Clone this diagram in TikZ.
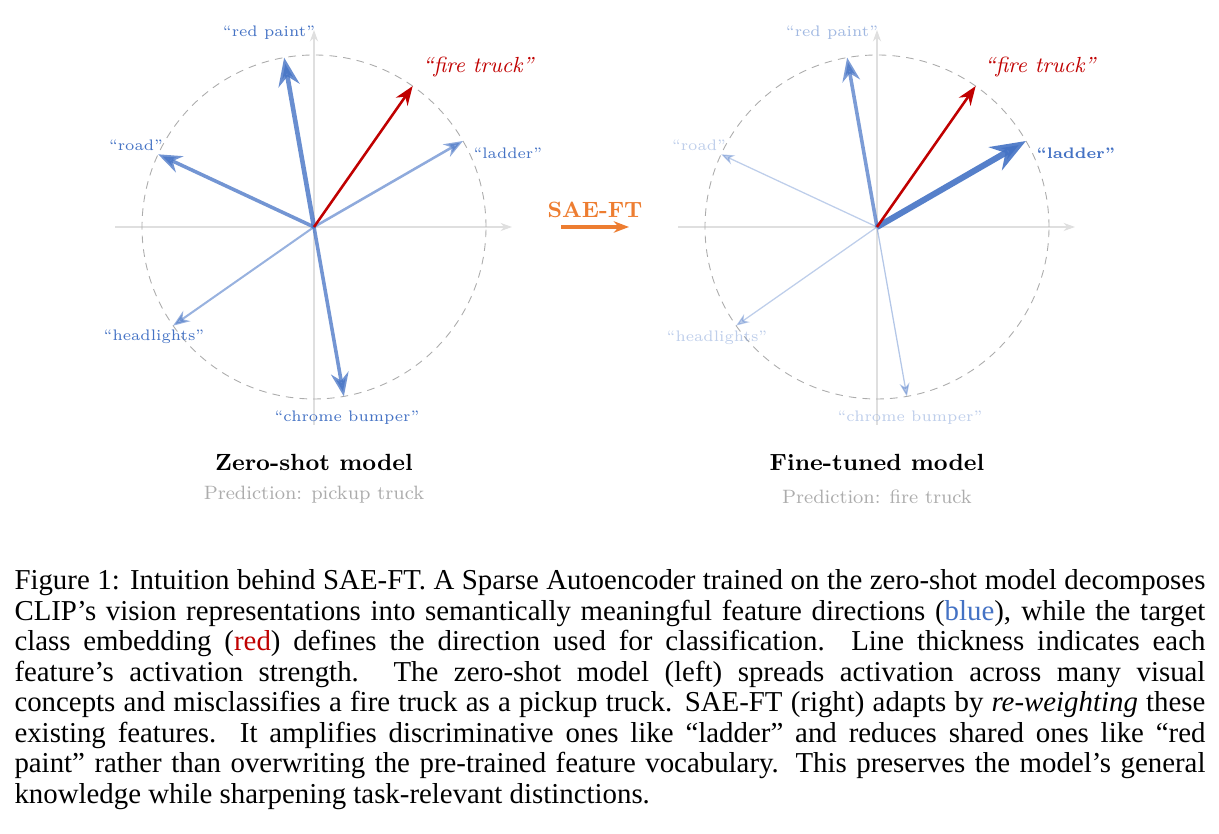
\documentclass[tikz,border=0pt]{standalone}
\usepackage{fontspec}
\newfontfamily\capfont{Liberation Serif}
\usetikzlibrary{arrows.meta, positioning, calc}
\definecolor{featblue}{RGB}{68,114,196}
\definecolor{classred}{RGB}{192,0,0}
\definecolor{saeorange}{RGB}{237,125,49}
\tikzset{
  axisline/.style={-{Stealth[length=4.5pt,width=3.2pt]}, line width=0.45pt, color=gray!25},
  unitcircle/.style={dash pattern=on 3pt off 2.4pt, line width=0.35pt, color=gray!65},
  featarrow/.style={-{Stealth}, line width=#1, color=featblue},
  classarrow/.style={-{Stealth}, line width=1pt, color=classred},
  featlabel/.style={inner sep=0pt, text=featblue, font=\fontsize{6}{7}\selectfont},
  classlabel/.style={inner sep=0pt, text=classred, font=\fontsize{8.6}{10}\selectfont\itshape},
  modeltitle/.style={inner sep=0pt, font=\fontsize{9.2}{11}\selectfont\bfseries},
  predtext/.style={inner sep=0pt, text=gray!65, font=\fontsize{7.6}{9}\selectfont},
}

\begin{document}
\begin{tikzpicture}[x=0.3934pt, y=0.3934pt]
  \useasboundingbox (0,0) rectangle (1219,834);

  % zero-shot model (left)
  \coordinate (L) at (314,607);
  \draw[axisline] ($(L)+(-199,0)$) coordinate (Lxa) -- ($(L)+(198,0)$) coordinate (Lxb);
  \draw[axisline] ($(L)+(0,-198)$) coordinate (Lya) -- ($(L)+(0,197)$) coordinate (Lyb);
  \draw[unitcircle] (L) circle (172);
  \coordinate (Lpaint) at ($(L)+(100:172)$);
  \coordinate (Lfire) at ($(L)+(55:172)$);
  \coordinate (Lladder) at ($(L)+(30:172)$);
  \coordinate (Lroad) at ($(L)+(155:172)$);
  \coordinate (Lhead) at ($(L)+(215:172)$);
  \coordinate (Lbump) at ($(L)+(280:172)$);
  \draw[featarrow=0.8pt, opacity=0.55] (L) -- (Lhead);
  \draw[featarrow=1pt, opacity=0.6] (L) -- (Lladder);
  \draw[featarrow=1.4pt, opacity=0.75] (L) -- (Lroad);
  \draw[featarrow=1.4pt, opacity=0.75] (L) -- (Lbump);
  \draw[featarrow=1.8pt, opacity=0.8] (L) -- (Lpaint);
  \draw[classarrow] (L) -- (Lfire);
  \node[featlabel] (lpaint) at ($(L)+(-45,194)$) {``red paint''};
  \node[classlabel] (lfire) at ($(L)+(164,160)$) {``fire truck''};
  \node[featlabel, anchor=west] (lladder) at ($(L)+(159,74)$) {``ladder''};
  \node[featlabel] (lroad) at ($(L)+(-178,82)$) {``road''};
  \node[featlabel] (lhead) at ($(L)+(-160,-110)$) {``headlights''};
  \node[featlabel] (lbump) at ($(L)+(33,-191)$) {``chrome bumper''};
  \node[modeltitle] (ltitle) at (314,372) {Zero-shot model};
  \node[predtext] (lpred) at (314,339) {Prediction: pickup truck};

  % SAE-FT step
  \coordinate (Sa) at (561,607);
  \coordinate (Sb) at (629,607);
  \draw[-{Stealth[length=6pt,width=4.5pt]}, line width=1.2pt, saeorange] (Sa) -- (Sb);
  \node[inner sep=0pt, text=saeorange, font=\fontsize{8.7}{10}\selectfont\bfseries]
    (sae) at (595,624) {SAE-FT};

  % fine-tuned model (right)
  \coordinate (R) at (877,607);
  \draw[axisline] ($(R)+(-199,0)$) coordinate (Rxa) -- ($(R)+(198,0)$) coordinate (Rxb);
  \draw[axisline] ($(R)+(0,-198)$) coordinate (Rya) -- ($(R)+(0,197)$) coordinate (Ryb);
  \draw[unitcircle] (R) circle (172);
  \coordinate (Rpaint) at ($(R)+(100:172)$);
  \coordinate (Rfire) at ($(R)+(55:172)$);
  \coordinate (Rladder) at ($(R)+(30:172)$);
  \coordinate (Rroad) at ($(R)+(155:172)$);
  \coordinate (Rhead) at ($(R)+(215:172)$);
  \coordinate (Rbump) at ($(R)+(280:172)$);
  \draw[featarrow=0.5pt, opacity=0.35] (R) -- (Rhead);
  \draw[featarrow=0.5pt, opacity=0.35] (R) -- (Rroad);
  \draw[featarrow=0.5pt, opacity=0.4] (R) -- (Rbump);
  \draw[featarrow=1.4pt, opacity=0.7] (R) -- (Rpaint);
  \draw[featarrow=2.4pt, opacity=0.9] (R) -- (Rladder);
  \draw[classarrow] (R) -- (Rfire);
  \node[featlabel, opacity=0.5] (rpaint) at ($(R)+(-45,194)$) {``red paint''};
  \node[classlabel] (rfire) at ($(R)+(163,160)$) {``fire truck''};
  \node[featlabel, anchor=west, font=\fontsize{6}{7}\selectfont\bfseries] (rladder) at ($(R)+(159,74)$) {``ladder''};
  \node[featlabel, opacity=0.35] (rroad) at ($(R)+(-178,82)$) {``road''};
  \node[featlabel, opacity=0.35] (rhead) at ($(R)+(-160,-111)$) {``headlights''};
  \node[featlabel, opacity=0.35] (rbump) at ($(R)+(33,-191)$) {``chrome bumper''};
  \node[modeltitle] (rtitle) at (877,372) {Fine-tuned model};
  \node[predtext] (rpred) at (877,337) {Prediction: fire truck};

  % caption
  \node[inner sep=0pt, anchor=north west, text width=468.5pt, align=justify,
        font=\capfont\fontsize{11.35}{12}\selectfont] (cap) at (14,265)
    {Figure 1: Intuition behind SAE-FT. A Sparse Autoencoder trained on the zero-shot model decomposes\linebreak
     CLIP’s vision representations into semantically meaningful feature directions ({\color{featblue}blue}), while the target\linebreak
     class embedding ({\color{classred}red}) defines the direction used for classification. Line thickness indicates each\linebreak
     feature’s activation strength. The zero-shot model (left) spreads activation across many visual\linebreak
     concepts and misclassifies a fire truck as a pickup truck. SAE-FT (right) adapts by \emph{re-weighting} these\linebreak
     existing features. It amplifies discriminative ones like “ladder” and reduces shared ones like “red\linebreak
     paint” rather than overwriting the pre-trained feature vocabulary. This preserves the model’s general\linebreak
     knowledge while sharpening task-relevant distinctions.};
\end{tikzpicture}
\end{document}
